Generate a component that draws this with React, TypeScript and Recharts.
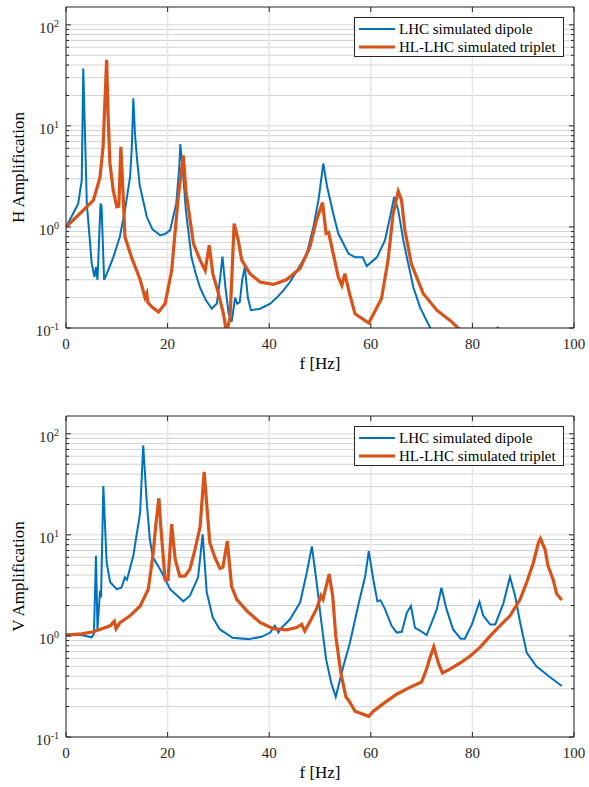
import {
  LineChart,
  Line,
  XAxis,
  YAxis,
  CartesianGrid,
  ReferenceLine,
  Legend,
} from "recharts";

// horizontal plane
const hDipoleFreq = [0, 1.2, 2.4, 3.1, 3.4, 4.1, 5.05, 5.6, 5.9, 6.2, 6.8, 7.0, 7.5, 8.4, 9.3, 10.6, 11.6, 12.6, 12.95, 13.25, 13.6, 14.0, 14.5, 15.9, 17.0, 18.5, 19.5, 20.5, 21.7, 22.3, 22.5, 23.1, 23.6, 24.7, 25.5, 26.4, 27.5, 28.7, 29.7, 30.3, 30.8, 31.4, 32.0, 32.6, 33.3, 33.7, 34.2, 34.7, 35.2, 35.8, 36.4, 38.2, 40.2, 41.5, 42.8, 44.1, 45.5, 47.4, 48.7, 49.7, 50.65, 51.4, 52.6, 53.6, 55.6, 56.9, 58.4, 59.2, 61.2, 62.8, 63.8, 64.6, 65.4, 66.4, 67.1, 68.4, 69.7, 71.7, 73.5, 78, 83, 85, 87];
const hDipoleAmp = [1.0, 1.3, 1.7, 2.9, 37, 1.7, 0.44, 0.32, 0.4, 0.3, 1.7, 1.6, 0.3, 0.38, 0.5, 0.8, 1.46, 3.1, 6, 18.7, 8, 4.6, 2.6, 1.26, 0.95, 0.83, 0.85, 0.93, 1.7, 3.9, 6.6, 3.1, 1.46, 0.5, 0.35, 0.25, 0.19, 0.155, 0.175, 0.3, 0.51, 0.25, 0.14, 0.115, 0.2, 0.174, 0.18, 0.3, 0.4, 0.2, 0.15, 0.155, 0.174, 0.2, 0.236, 0.285, 0.37, 0.545, 1.0, 1.84, 4.25, 2.5, 1.36, 0.86, 0.545, 0.5, 0.5, 0.41, 0.5, 0.74, 1.26, 1.98, 1.46, 0.74, 0.5, 0.25, 0.16, 0.1, 0.08, 0.07, 0.085, 0.101, 0.08];

const hTripletFreq = [0, 2.7, 5.4, 6.7, 7.3, 8.0, 8.3, 8.65, 9.3, 10.0, 10.4, 10.8, 11.3, 11.6, 12.9, 14.6, 15.55, 15.9, 16.1, 17.0, 18.2, 19.5, 20.8, 22.1, 23.1, 23.6, 25.1, 26.4, 27.4, 28.2, 28.9, 30.0, 31.0, 31.6, 32.3, 33.1, 33.9, 34.6, 36.2, 38.2, 40.8, 43.4, 46.1, 48.0, 49.3, 50.5, 51.2, 51.7, 52.6, 53.6, 54.3, 54.9, 55.8, 56.9, 59.6, 62.1, 63.4, 64.4, 65.4, 66.05, 66.7, 68.0, 70.3, 73.0, 75.6, 77.2, 79];
const hTripletAmp = [1.0, 1.35, 1.84, 3.1, 6.2, 45, 12.3, 4.25, 2.3, 1.58, 1.6, 6.2, 1.84, 0.8, 0.5, 0.3, 0.2, 0.22, 0.18, 0.16, 0.144, 0.174, 0.37, 1.98, 5.1, 2.3, 0.68, 0.47, 0.37, 0.66, 0.345, 0.22, 0.138, 0.09, 0.128, 1.08, 0.74, 0.47, 0.345, 0.285, 0.27, 0.3, 0.39, 0.63, 1.16, 1.74, 0.86, 0.88, 0.545, 0.32, 0.265, 0.345, 0.22, 0.138, 0.112, 0.195, 0.47, 1.36, 2.25, 1.84, 0.93, 0.43, 0.22, 0.15, 0.119, 0.1, 0.085];

// vertical plane
const vDipoleFreq = [0, 3, 5.05, 5.5, 5.9, 6.2, 6.7, 6.9, 7.35, 8.0, 8.7, 10.0, 10.9, 11.6, 12.0, 13.25, 14.6, 15.2, 15.9, 16.5, 17.1, 18.5, 20.5, 23.1, 24.4, 26.0, 26.9, 27.7, 28.9, 30.3, 32.8, 35.9, 38.5, 40.2, 41.1, 41.8, 42.4, 44.1, 46.1, 47.4, 48.4, 49.3, 50.2, 51.2, 52.2, 53.1, 54.6, 55.9, 57.5, 58.9, 59.6, 60.5, 61.3, 61.9, 62.8, 64.1, 65.1, 66.1, 67.1, 67.9, 68.7, 69.7, 71.0, 72.0, 73.0, 73.9, 74.9, 76.2, 77.7, 78.5, 79.9, 81.4, 82.1, 83.5, 84.5, 86.1, 87.4, 88.4, 89.4, 90.7, 92.6, 95.3, 97.6];
const vDipoleAmp = [1.04, 1.02, 0.97, 1.05, 6.2, 1.16, 2.8, 2.4, 30.5, 5.3, 3.4, 2.9, 3.0, 3.8, 3.6, 6.2, 16.7, 77, 21, 9.1, 6.0, 4.6, 2.9, 2.2, 2.5, 3.8, 10.1, 2.7, 1.52, 1.16, 0.96, 0.93, 0.98, 1.08, 1.26, 1.08, 1.2, 1.46, 2.15, 4.25, 7.7, 3.5, 1.46, 0.59, 0.345, 0.25, 0.5, 0.86, 1.98, 3.9, 6.9, 3.6, 2.2, 2.26, 1.84, 1.26, 1.08, 1.1, 1.7, 1.98, 1.2, 1.13, 1.02, 1.36, 1.84, 3.0, 1.84, 1.16, 0.94, 0.94, 1.3, 2.17, 1.6, 1.3, 1.3, 2.1, 3.84, 2.5, 1.36, 0.68, 0.5, 0.39, 0.32];

const vTripletFreq = [0, 3, 5.4, 8.7, 9.5, 9.85, 10.6, 12.6, 14.6, 16.2, 17.1, 17.8, 18.3, 18.7, 19.5, 20.1, 20.8, 21.5, 22.4, 23.4, 24.4, 25.4, 26.4, 27.2, 28.3, 29.3, 30.3, 30.9, 31.75, 32.6, 33.6, 35.6, 38.2, 40.8, 43.4, 45.4, 46.4, 47.0, 48.0, 49.3, 50.2, 50.6, 51.8, 52.5, 53.1, 54.1, 55.1, 55.9, 56.9, 59.6, 60.5, 62.8, 65.1, 67.7, 70.0, 71.1, 71.6, 72.4, 73.3, 74.1, 75.6, 77.6, 79.5, 81.5, 83.5, 85.4, 87.4, 89.4, 90.7, 92.0, 93.0, 93.4, 94.3, 94.9, 95.9, 96.6, 97.6];
const vTripletAmp = [1.02, 1.05, 1.1, 1.26, 1.4, 1.18, 1.35, 1.58, 1.98, 2.9, 6.2, 14.3, 23, 11.4, 3.6, 3.6, 12.8, 5.7, 3.9, 3.9, 4.6, 7.2, 12, 42, 8.4, 6.0, 4.65, 4.8, 8.7, 3.1, 2.3, 1.77, 1.36, 1.18, 1.15, 1.21, 1.3, 1.12, 1.38, 1.84, 2.5, 2.3, 4.1, 2.5, 1.0, 0.43, 0.25, 0.22, 0.18, 0.16, 0.18, 0.22, 0.265, 0.31, 0.35, 0.49, 0.6, 0.78, 0.54, 0.43, 0.47, 0.54, 0.63, 0.77, 1.0, 1.26, 1.58, 2.3, 3.4, 5.3, 8.4, 9.2, 7.2, 4.9, 3.6, 2.6, 2.27];

const xTicks = [0, 20, 40, 60, 80, 100];
const yMajorTicks = [0.1, 1, 10, 100];
const yMinorTicks = [
  0.2, 0.3, 0.4, 0.5, 0.6, 0.7, 0.8, 0.9,
  2, 3, 4, 5, 6, 7, 8, 9,
  20, 30, 40, 50, 60, 70, 80, 90,
];
const seriesNames = ["LHC simulated dipole", "HL-LHC simulated triplet"];

const zip = (f: number[], a: number[]) => f.map((x, i) => ({ f: x, a: a[i] }));

const FONT = "'Liberation Serif', 'DejaVu Serif', serif";
const AXIS = "#262626";
const BLUE = "#0072BD";
const ORANGE = "#D95319";
const COLORS = [BLUE, ORANGE];
const WIDTHS = [2, 3.2];

const W = 589;
const PLOT_LEFT = 66;
const PLOT_RIGHT = 574;

const txt = (size: number) => ({ fontFamily: FONT, fontSize: size });

function Panel({ yLabel, dipole, triplet, height, top, xAxisH }: any) {
  const plotTop = top;
  const plotBottom = height - xAxisH;
  const midX = (PLOT_LEFT + PLOT_RIGHT) / 2;

  const yTick = (p: any) => {
    const v = p.payload.value;
    const major = yMajorTicks.includes(v);
    const len = major ? 5 : 3;
    const exp = Math.round(Math.log10(v));
    return (
      <g>
        <line x1={PLOT_LEFT} x2={PLOT_LEFT + len} y1={p.y} y2={p.y} stroke={AXIS} />
        <line x1={PLOT_RIGHT} x2={PLOT_RIGHT - len} y1={p.y} y2={p.y} stroke={AXIS} />
        {major && (
          <text x={PLOT_LEFT - 7} y={p.y + 8} textAnchor="end" style={txt(15)} fill={AXIS}>
            10
            <tspan dy={-6} style={txt(10)}>{exp}</tspan>
          </text>
        )}
      </g>
    );
  };

  const xTick = (p: any) => (
    <g>
      <line x1={p.x} x2={p.x} y1={plotBottom} y2={plotBottom - 5} stroke={AXIS} />
      <line x1={p.x} x2={p.x} y1={plotTop} y2={plotTop + 5} stroke={AXIS} />
      <text x={p.x} y={plotBottom + 21} textAnchor="middle" style={txt(15)} fill={AXIS}>
        {p.payload.value}
      </text>
    </g>
  );

  const legendContent = () => (
    <svg width={210} height={40} style={{ display: "block" }}>
      <rect x={0.5} y={0.5} width={209} height={39} fill="#fff" stroke={AXIS} />
      {seriesNames.map((name, i) => (
        <g key={name}>
          <line x1={5} x2={41} y1={12 + i * 18} y2={12 + i * 18} stroke={COLORS[i]} strokeWidth={WIDTHS[i]} />
          <text x={45} y={17 + i * 18} style={txt(15)} fill="#000">
            {name}
          </text>
        </g>
      ))}
    </svg>
  );

  return (
    <LineChart width={W} height={height} margin={{ top: plotTop, right: W - PLOT_RIGHT, bottom: 0, left: 0 }}>
      <CartesianGrid horizontalValues={yMinorTicks} vertical={false} stroke="#d2d2d2" />
      <CartesianGrid horizontalValues={yMajorTicks} verticalValues={xTicks} stroke="#e6e6e6" strokeWidth={1.5} />
      <XAxis
        dataKey="f"
        type="number"
        domain={[0, 100]}
        ticks={xTicks}
        interval={0}
        allowDataOverflow
        height={xAxisH}
        tickLine={false}
        tickSize={0}
        tickMargin={0}
        tick={xTick}
        axisLine={{ stroke: AXIS }}
        label={{
          content: () => (
            <text x={midX} y={plotBottom + 41} textAnchor="middle" style={txt(17)} fill="#000">
              f [Hz]
            </text>
          ),
        }}
      />
      <YAxis
        type="number"
        scale="log"
        domain={[0.1, 150]}
        allowDataOverflow
        ticks={[...yMinorTicks, ...yMajorTicks].sort((a, b) => a - b)}
        interval={0}
        width={PLOT_LEFT}
        tickLine={false}
        tickSize={0}
        tickMargin={0}
        tick={yTick}
        axisLine={{ stroke: AXIS }}
        label={{
          content: () => (
            <text
              transform={`translate(24, ${(plotTop + plotBottom) / 2}) rotate(-90)`}
              textAnchor="middle"
              style={txt(17)}
              fill="#000"
            >
              {yLabel}
            </text>
          ),
        }}
      />
      <Line
        data={dipole}
        dataKey="a"
        name={seriesNames[0]}
        type="linear"
        stroke={BLUE}
        strokeWidth={WIDTHS[0]}
        dot={false}
        legendType="line"
        isAnimationActive={false}
      />
      <Line
        data={triplet}
        dataKey="a"
        name={seriesNames[1]}
        type="linear"
        stroke={ORANGE}
        strokeWidth={WIDTHS[1]}
        dot={false}
        legendType="line"
        isAnimationActive={false}
      />
      <ReferenceLine y={150} stroke={AXIS} />
      <ReferenceLine x={100} stroke={AXIS} />
      <Legend
        layout="vertical"
        align="center"
        verticalAlign="middle"
        content={legendContent}
        wrapperStyle={{ position: "absolute", left: 354, top: plotTop + 10, width: 210, height: 40 }}
      />
    </LineChart>
  );
}

export default function App() {
  return (
    <div style={{ position: "absolute", left: 0, top: 0, width: W, height: 787, background: "#fff" }}>
      <div style={{ position: "absolute", left: 0, top: 0 }}>
        <Panel
          yLabel="H Amplification"
          dipole={zip(hDipoleFreq, hDipoleAmp)}
          triplet={zip(hTripletFreq, hTripletAmp)}
          height={390}
          top={7}
          xAxisH={62}
        />
      </div>
      <div style={{ position: "absolute", left: 0, top: 400 }}>
        <Panel
          yLabel="V Amplification"
          dipole={zip(vDipoleFreq, vDipoleAmp)}
          triplet={zip(vTripletFreq, vTripletAmp)}
          height={387}
          top={16}
          xAxisH={50}
        />
      </div>
    </div>
  );
}
